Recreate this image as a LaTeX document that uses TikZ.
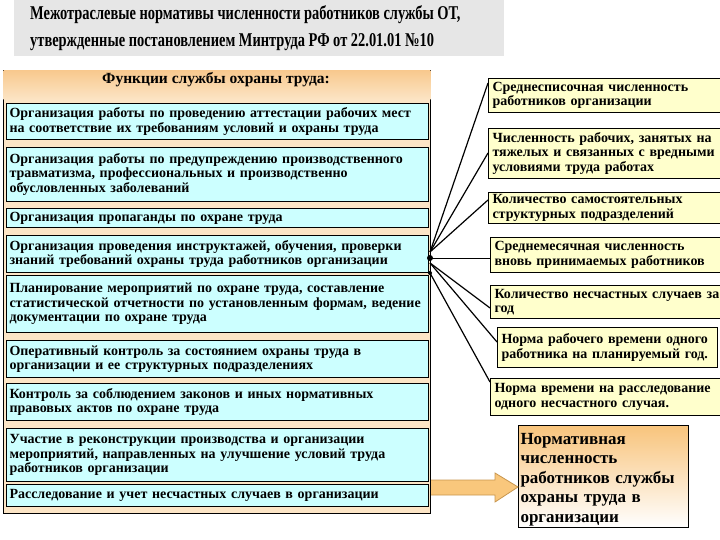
\documentclass[tikz,border=0pt]{standalone}
\usepackage{fontspec}
\setmainfont{Liberation Serif}
\newfontfamily\titlefont[FakeStretch=0.74]{Liberation Serif}
\usetikzlibrary{calc}
\definecolor{titlegray}{HTML}{E6E6E6}
\definecolor{peach}{HTML}{FCE5C6}
\definecolor{orangehd}{HTML}{F8C98E}
\definecolor{cyanbox}{HTML}{CCFFFF}
\definecolor{yelbox}{HTML}{FFFFCC}
\definecolor{arrfill}{HTML}{F9C77C}
\definecolor{arrdraw}{HTML}{C8964E}
\definecolor{fintop}{HTML}{F8C47C}
\tikzset{
  txt/.style={font=\fontsize{14}{14.5}\selectfont\bfseries},
  lbox/.style={txt, draw=black, line width=1pt, fill=cyanbox, anchor=north west,
    minimum width=422pt, text width=416pt, inner xsep=2pt, inner ysep=0pt, align=left},
  rbox/.style={txt, draw=black, line width=1pt, fill=yelbox, anchor=north west,
    minimum width=240pt, text width=232pt, inner xsep=2pt, inner ysep=0pt, align=left},
  conn/.style={draw=black, line width=1.2pt},
  hubdot/.style={circle, fill=black, inner sep=0pt, minimum size=4pt},
}
\begin{document}
\begin{tikzpicture}[x=1pt,y=-1pt]
\useasboundingbox (0,0) rectangle (720,540);
\clip (0,0) rectangle (720,540);
% title
\node[fill=titlegray, anchor=north west, minimum width=474pt, minimum height=56pt,
  text width=458pt, align=left, inner xsep=16pt, inner ysep=0pt, font=\titlefont\fontsize{19.5}{27}\selectfont\bfseries]
  (title) at (14,0) {\spaceskip=3.6pt\relax Межотраслевые нормативы численности работников службы ОТ,\\
  утвержденные постановлением Минтруда РФ от 22.01.01 №10};
% left container
\node[draw=black, line width=1pt, anchor=north west, minimum width=427pt, minimum height=443pt,
  inner sep=0pt, fill=peach] (outer) at (3,70) {};
\shade[top color=orangehd, bottom color=peach] ([shift={(0.6,0.6)}]outer.north west) rectangle ([xshift=-0.6pt]outer.east |- 0,100);
\node[font=\fontsize{15.5}{17}\selectfont\bfseries] (hdr) at (216,80) {Функции службы охраны труда:};
\node[lbox, minimum height=36pt] (l1) at (6,103) {Организация работы по проведению аттестации рабочих мест\\ на соответствие их требованиям условий и охраны труда};
\node[lbox, minimum height=54pt] (l2) at (6,147) {Организация работы по предупреждению производственного\\ травматизма, профессиональных и производственно\\ обусловленных заболеваний};
\node[lbox, minimum height=19pt] (l3) at (6,208) {Организация пропаганды по охране труда};
\node[lbox, minimum height=37pt] (l4) at (6,235) {Организация проведения инструктажей, обучения, проверки\\ знаний требований охраны труда работников организации};
\node[lbox, minimum height=57pt] (l5) at (6,275) {Планирование мероприятий по охране труда, составление\\ статистической отчетности по установленным формам, ведение\\ документации по охране труда};
\node[lbox, minimum height=37pt] (l6) at (6,340) {Оперативный контроль за состоянием охраны труда в\\ организации и ее структурных подразделениях};
\node[lbox, minimum height=37pt] (l7) at (6,383) {Контроль за соблюдением законов и иных нормативных\\ правовых актов по охране труда};
\node[lbox, minimum height=53pt] (l8) at (6,428) {Участие в реконструкции производства и организации\\ мероприятий, направленных на улучшение условий труда\\ работников организации};
\node[lbox, minimum height=22pt] (l9) at (6,484) {Расследование и учет несчастных случаев в организации};
% right boxes
\node[rbox, minimum height=34pt] (r1) at (488,78) {Среднесписочная численность\\ работников организации};
\node[rbox, minimum height=50pt] (r2) at (488,128) {Численность рабочих, занятых на\\ тяжелых и связанных с вредными\\ условиями труда работах};
\node[rbox, minimum height=31pt] (r3) at (488,192) {Количество самостоятельных\\ структурных подразделений};
\node[rbox, minimum height=35pt] (r4) at (490,237) {Среднемесячная численность\\ вновь принимаемых работников};
\node[rbox, minimum height=33pt] (r5) at (490,285) {Количество несчастных случаев за\\ год};
\node[rbox, minimum height=40pt, minimum width=220pt, text width=212pt] (r6) at (497,327) {Норма рабочего времени одного\\ работника на планируемый год.};
\node[rbox, minimum height=37pt] (r7) at (490,378) {Норма времени на расследование\\ одного несчастного случая.};
% final box
\node[draw=black, line width=1pt, anchor=north west, minimum width=170pt, minimum height=102pt,
  text width=166pt, inner xsep=2pt, inner ysep=0pt, align=left, top color=fintop, bottom color=white,
  font=\fontsize{17}{19.5}\selectfont\bfseries] (fin) at (518,425)
  {\rule{0pt}{17pt}Нормативная\\ численность\\ работников службы\\ охраны труда в\\ организации};
% connectors
\coordinate (hubA) at (430,252);
\coordinate (hubB) at (430,258);
\coordinate (hubC) at (430,263);
\draw[conn] (hubA) -- ([yshift=-5pt]r1.north west);
\draw[conn] (hubA) -- ([yshift=-25pt]r2.north west);
\draw[conn] (hubA) -- ([yshift=-8pt]r3.north west);
\draw[conn, line width=0.8pt] (hubB) -- (r4.west |- hubB);
\draw[conn] (hubC) -- ([yshift=-23pt]r5.north west);
\draw[conn] (hubC) -- ([yshift=-15pt]r6.north west);
\node[hubdot, minimum size=6pt] (hd1) at (hubB) {};
\node[hubdot] (hd2) at (430,273) {};
\draw[conn] (hd2.center) -- ([yshift=-4pt]r7.north west);
% big arrow
\draw[fill=arrfill, draw=arrdraw, line width=0.8pt]
  (outer.east |- 0,480) -- (495,480) -- (495,473) -- (fin.west |- 0,487) -- (495,502) -- (495,495) -- (outer.east |- 0,495);
\end{tikzpicture}
\end{document}
